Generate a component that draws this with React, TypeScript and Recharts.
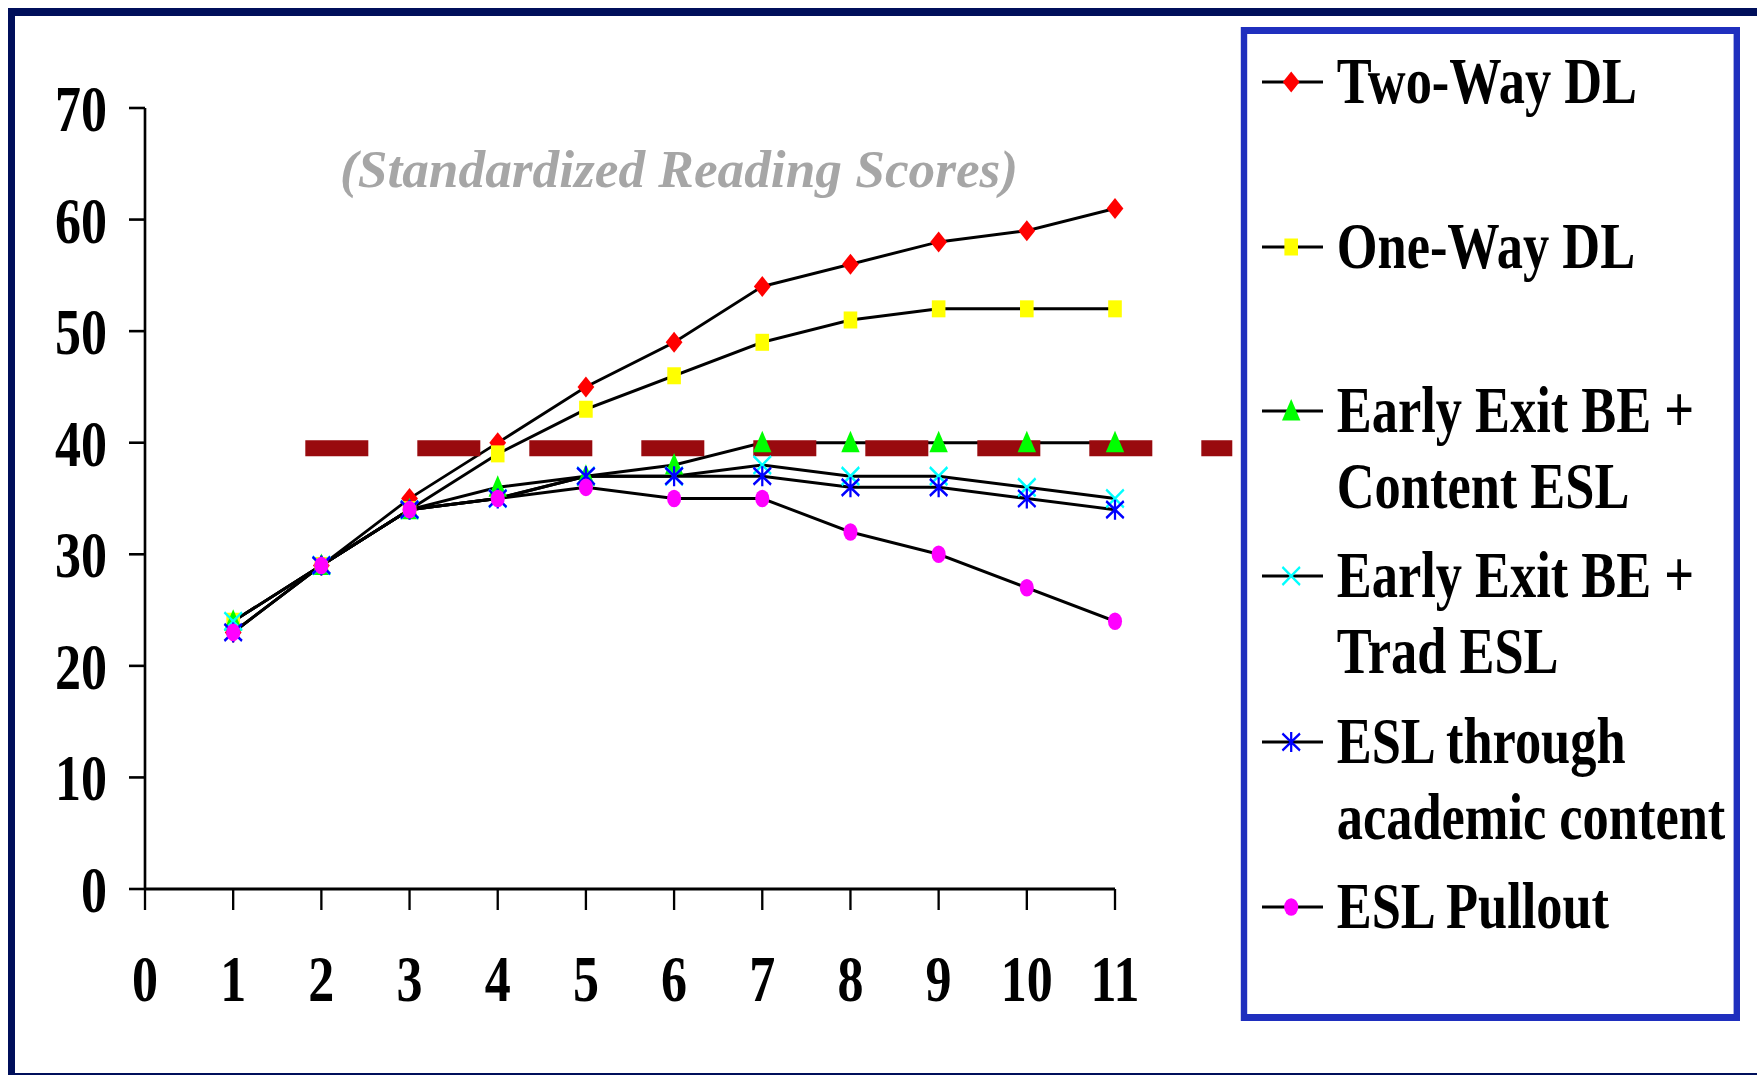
import React from 'react'
import { LineChart, Line, XAxis, YAxis, ReferenceLine } from 'recharts'

// grades 1..11, standardized reading scores per program model
const grades = [1, 2, 3, 4, 5, 6, 7, 8, 9, 10, 11]
const twoWayDL = [23, 29, 35, 40, 45, 49, 54, 56, 58, 59, 61]
const oneWayDL = [24, 29, 34, 39, 43, 46, 49, 51, 52, 52, 52]
const earlyExitContent = [24, 29, 34, 36, 37, 38, 40, 40, 40, 40, 40]
const earlyExitTrad = [24, 29, 34, 35, 37, 37, 38, 37, 37, 36, 35]
const eslContent = [23, 29, 34, 35, 37, 37, 37, 36, 36, 35, 34]
const eslPullout = [23, 29, 34, 35, 36, 35, 35, 32, 30, 27, 24]

const xTicks = [0, 1, 2, 3, 4, 5, 6, 7, 8, 9, 10, 11]
const yTicks = [0, 10, 20, 30, 40, 50, 60, 70]

// dashed reference band
const refLevel = 39.5
const refFrom = 1.818
const refTo = 12.33

const title = '(Standardized Reading Scores)'

type Shape = 'diamond' | 'square' | 'triangle' | 'x' | 'star' | 'circle'

const series: { key: string; label: string[]; color: string; shape: Shape; values: number[] }[] = [
  { key: 'twoWay', label: ['Two-Way DL'], color: '#ff0000', shape: 'diamond', values: twoWayDL },
  { key: 'oneWay', label: ['One-Way DL'], color: '#ffff00', shape: 'square', values: oneWayDL },
  { key: 'earlyContent', label: ['Early Exit BE +', 'Content ESL'], color: '#00ff00', shape: 'triangle', values: earlyExitContent },
  { key: 'earlyTrad', label: ['Early Exit BE +', 'Trad ESL'], color: '#00ffff', shape: 'x', values: earlyExitTrad },
  { key: 'eslContent', label: ['ESL through', 'academic content'], color: '#0000ff', shape: 'star', values: eslContent },
  { key: 'pullout', label: ['ESL Pullout'], color: '#ff00ff', shape: 'circle', values: eslPullout },
]

const data = grades.map((g, i) => {
  const row: Record<string, number> = { grade: g }
  series.forEach((s) => (row[s.key] = s.values[i]))
  return row
})

// the original picture is squeezed horizontally; draw wide, then squeeze
const SX = 0.8
const W = 2197
const H = 1075
const font = 'Liberation Serif, Times New Roman, serif'

function Marker({ cx, cy, shape, color }: { cx?: number; cy?: number; shape: Shape; color: string }) {
  if (cx == null || cy == null) return null
  switch (shape) {
    case 'diamond':
      return <path d={`M${cx},${cy - 10.5}L${cx + 10.5},${cy}L${cx},${cy + 10.5}L${cx - 10.5},${cy}Z`} fill={color} />
    case 'square':
      return <rect x={cx - 8.5} y={cy - 8.5} width={17} height={17} fill={color} />
    case 'triangle':
      return <path d={`M${cx},${cy - 12}L${cx + 11.5},${cy + 9.5}L${cx - 11.5},${cy + 9.5}Z`} fill={color} />
    case 'x':
      return (
        <path
          d={`M${cx - 11},${cy - 9}L${cx + 11},${cy + 9}M${cx - 11},${cy + 9}L${cx + 11},${cy - 9}`}
          stroke={color}
          strokeWidth={2.8}
          fill="none"
        />
      )
    case 'star':
      return (
        <path
          d={`M${cx - 11},${cy - 8.5}L${cx + 11},${cy + 8.5}M${cx - 11},${cy + 8.5}L${cx + 11},${cy - 8.5}M${cx},${cy - 10}L${cx},${cy + 10}`}
          stroke={color}
          strokeWidth={2.8}
          fill="none"
        />
      )
    default:
      return <circle cx={cx} cy={cy} r={8.8} fill={color} />
  }
}

function LegendBox() {
  const rowY = [48, 213, 377, 542, 708, 873]
  return (
    <div
      style={{
        position: 'absolute',
        left: 1551,
        top: 27,
        width: 624,
        height: 994,
        boxSizing: 'border-box',
        borderStyle: 'solid',
        borderColor: '#1f2fbe',
        borderWidth: '7px 8px',
      }}
    >
      <svg width={608} height={980} style={{ position: 'absolute', left: 0, top: 0 }}>
        {series.map((s, i) => (
          <g key={s.key}>
            <line x1={18.5} x2={94.75} y1={rowY[i]} y2={rowY[i]} stroke="#000" strokeWidth={3} />
            <Marker cx={55} cy={rowY[i]} shape={s.shape} color={s.color} />
            {s.label.map((t, j) => (
              <text
                key={j}
                x={112}
                y={rowY[i] + 21.5 + j * 76}
                fontFamily={font}
                fontWeight={700}
                fontSize={65.5}
                fill="#000"
              >
                {t}
              </text>
            ))}
          </g>
        ))}
      </svg>
    </div>
  )
}

export default function App() {
  const tickStyle = { fontFamily: font, fontWeight: 700, fontSize: 65, fill: '#000' }
  return (
    <>
      <div
        style={{
          position: 'fixed',
          left: 8,
          top: 8,
          width: 1760,
          height: 1073,
          boxSizing: 'border-box',
          borderStyle: 'solid',
          borderColor: '#000f5b',
          borderWidth: '8px 0 8px 7px',
          background: '#fff',
        }}
      />
      <div
        style={{
          position: 'fixed',
          left: 0,
          top: 0,
          width: W,
          height: H,
          transform: `scaleX(${SX})`,
          transformOrigin: '0 0',
        }}
      >
        <LineChart width={W} height={H} data={data} margin={{ top: 108, right: 803.25, bottom: 66, left: 61.25 }}>
          <XAxis
            dataKey="grade"
            type="number"
            domain={[0, 11]}
            ticks={xTicks}
            interval={0}
            height={120}
            tickSize={21}
            tickMargin={45}
            tick={tickStyle}
            axisLine={{ stroke: '#000', strokeWidth: 3 }}
            tickLine={{ stroke: '#000', strokeWidth: 2.9 }}
          />
          <YAxis
            type="number"
            domain={[0, 70]}
            ticks={yTicks}
            interval={0}
            width={120}
            tickSize={20}
            tickMargin={27.5}
            tick={tickStyle}
            axisLine={{ stroke: '#000', strokeWidth: 3.3 }}
            tickLine={{ stroke: '#000', strokeWidth: 2.6 }}
          />
          {series.map((s) => (
            <Line
              key={s.key}
              dataKey={s.key}
              name={s.label.join(' ')}
              type="linear"
              stroke="#000"
              strokeWidth={3}
              isAnimationActive={false}
              activeDot={false}
              dot={(p: any) => <Marker key={p.index} cx={p.cx} cy={p.cy} shape={s.shape} color={s.color} />}
            />
          ))}
          <ReferenceLine
            segment={[
              { x: refFrom, y: refLevel },
              { x: refTo, y: refLevel },
            ]}
            ifOverflow="visible"
            stroke="#990a0e"
            strokeWidth={16}
            strokeDasharray="78.75 61.25"
          />
        </LineChart>
        <LegendBox />
      </div>
      <div
        style={{
          position: 'fixed',
          left: 340,
          top: 143,
          fontFamily: font,
          fontStyle: 'italic',
          fontWeight: 700,
          fontSize: 53.3,
          lineHeight: '53px',
          color: '#a6a6a6',
          whiteSpace: 'nowrap',
        }}
      >
        {title}
      </div>
    </>
  )
}
